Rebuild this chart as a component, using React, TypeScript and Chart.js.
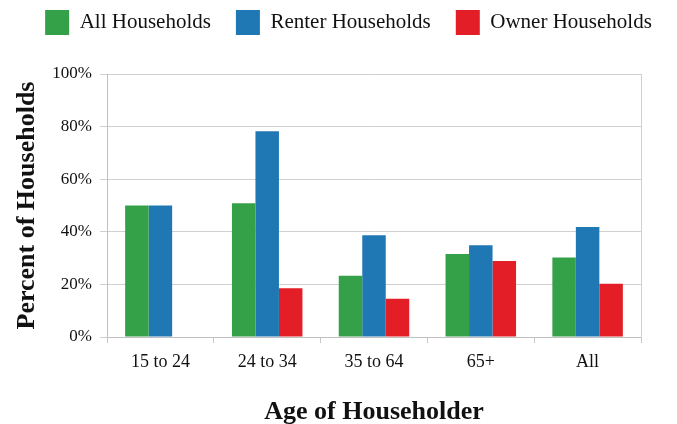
import React, { useEffect, useRef } from "react";
import { Chart, registerables } from "chart.js";

Chart.register(...registerables);

const categories = ["15 to 24", "24 to 34", "35 to 64", "65+", "All"];
const allHouseholds = [50, 50.9, 23.3, 31.6, 30.2];
const renterHouseholds = [50, 78.2, 38.7, 34.9, 41.8];
const ownerHouseholds: (number | null)[] = [null, 18.5, 14.5, 28.9, 20.2];
const yTicks = [0, 20, 40, 60, 80, 100];

const FONT = "'Liberation Serif', 'Times New Roman', serif";

export default function App() {
  const ref = useRef<HTMLCanvasElement>(null);
  useEffect(() => {
    if (!ref.current) return;
    const chart = new Chart(ref.current, {
      type: "bar",
      data: {
        labels: categories,
        datasets: [
          { label: "All Households", data: allHouseholds, backgroundColor: "#34A048", yAxisID: "y", xAxisID: "x" },
          { label: "Renter Households", data: renterHouseholds, backgroundColor: "#1F78B4", yAxisID: "y", xAxisID: "x" },
          { label: "Owner Households", data: ownerHouseholds, backgroundColor: "#E31E26", yAxisID: "y", xAxisID: "x" },
        ],
      },
      options: {
        animation: false,
        responsive: false,
        maintainAspectRatio: false,
        datasets: { bar: { categoryPercentage: 0.66, barPercentage: 1.0 } },
        layout: { padding: { top: -15, left: 20, right: 0, bottom: 0 } },
        plugins: {
          tooltip: { enabled: false },
          legend: {
            position: "top",
            labels: {
              boxWidth: 24,
              boxHeight: 25,
              padding: 25,
              color: "#111",
              font: { family: FONT, size: 21 },
            },
          },
        },
        scales: {
          x: {
            offset: true,
            afterFit: (axis: any) => {
              axis.height = 87;
            },
            grid: { drawOnChartArea: false, drawTicks: true, tickLength: 6, color: "#c8c8c8", offset: true },
            border: { color: "#c0c0c0" },
            ticks: { color: "#111", font: { family: FONT, size: 18 }, padding: 8 },
            title: {
              display: true,
              text: "Age of Householder",
              color: "#111",
              font: { family: FONT, size: 26, weight: "bold" },
              padding: { top: 0, bottom: -4 },
            },
          },
          xTop: {
            type: "category",
            position: "top",
            labels: categories,
            afterFit: (axis: any) => {
              axis.height = 29;
            },
            grid: { display: false },
            border: { display: false },
            ticks: { display: false },
          },
          y: {
            min: 0,
            max: 100,
            afterBuildTicks: (axis: any) => {
              axis.ticks = yTicks.map((v) => ({ value: v }));
            },
            afterFit: (axis: any) => {
              axis.width = 87;
            },
            grid: { color: "#d0d0d0", tickLength: 7 },
            border: { color: "#c0c0c0" },
            ticks: {
              color: "#111",
              font: { family: FONT, size: 17 },
              padding: 8,
              callback: (v: any) => v + "%",
            },
            title: {
              display: true,
              text: "Percent of Households",
              color: "#111",
              font: { family: FONT, size: 26, weight: "bold" },
              padding: { top: -8, bottom: 0 },
            },
          },
          y2: {
            position: "right",
            min: 0,
            max: 100,
            afterFit: (axis: any) => {
              axis.width = 36;
            },
            grid: { drawOnChartArea: false, drawTicks: false },
            border: { color: "#d0d0d0" },
            ticks: { display: false },
          },
        },
      },
    });
    return () => chart.destroy();
  }, []);
  return (
    <div style={{ position: "fixed", left: 0, top: 0, width: 677, height: 424, background: "#fff" }}>
      <canvas ref={ref} width={677} height={424} style={{ width: 677, height: 424 }} />
    </div>
  );
}
